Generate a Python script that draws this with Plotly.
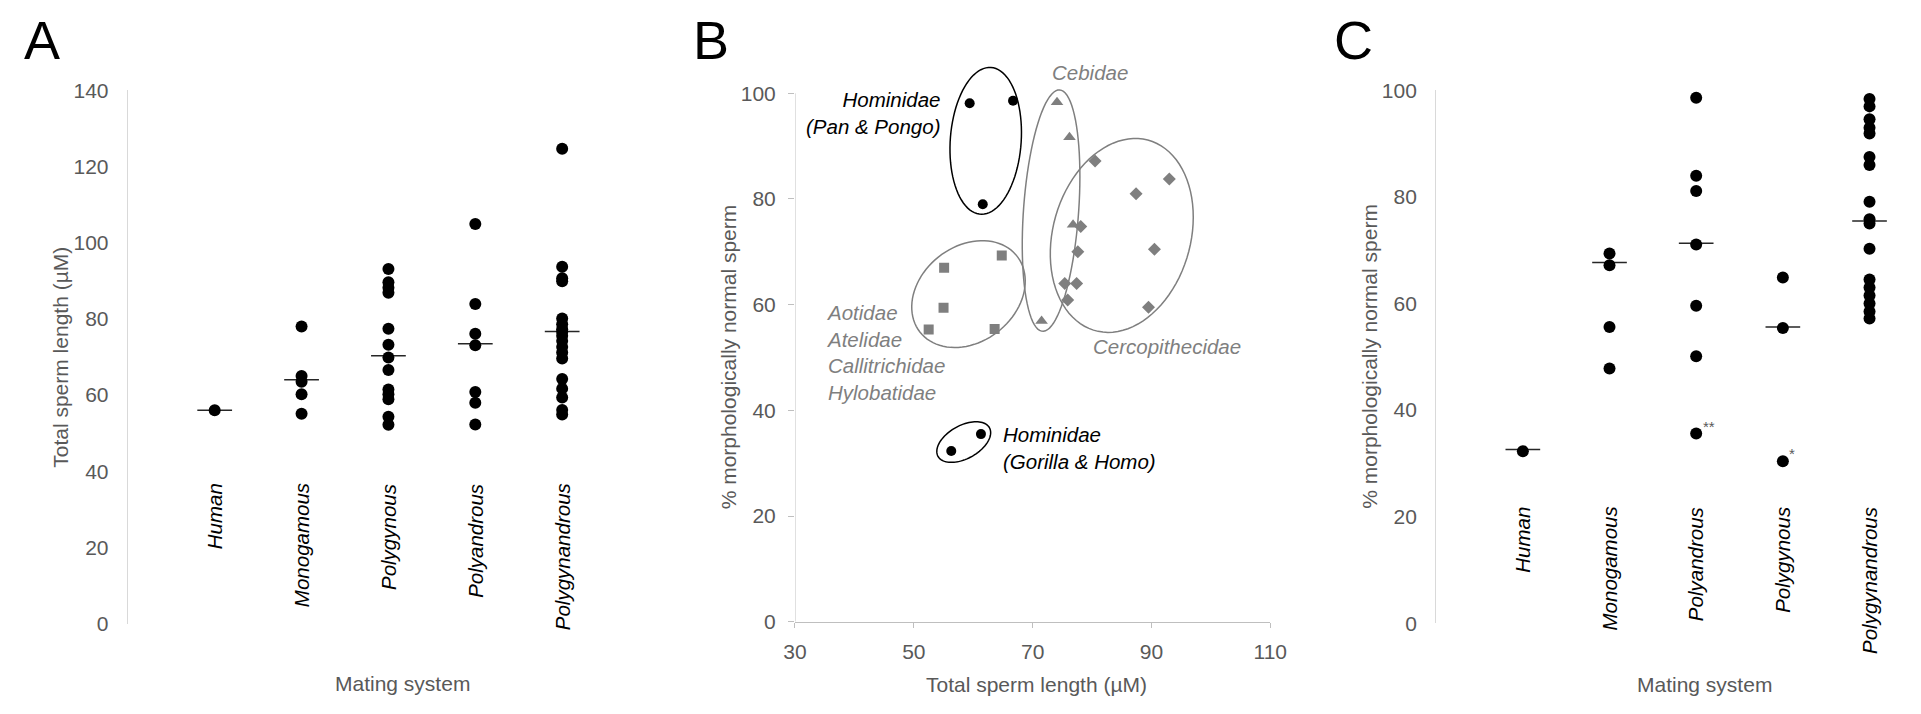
import numpy as np
import plotly.graph_objects as go

W, H = 1921, 714
FONT = "Liberation Sans, Arial, sans-serif"
TXT_GRAY = "#595959"
MARK_GRAY = "#7f7f7f"

# ---------------- Panel A data: total sperm length by mating system ----------------
A_categories = ["Human", "Monogamous", "Polygynous", "Polyandrous", "Polygynandrous"]
A_human = [56.0]
A_monogamous = [78.0, 65.0, 63.5, 60.2, 55.1]
A_polygynous = [93.1, 89.6, 88.2, 86.9, 77.4, 73.2, 69.9, 66.6, 61.5, 60.2, 58.9, 54.3, 52.2]
A_polyandrous = [104.9, 83.9, 76.1, 73.1, 60.8, 58.0, 52.3]
A_polygynandrous = [124.7, 93.7, 90.7, 89.9, 80.1, 78.6, 77.3, 76.6, 75.6, 74.2,
                    72.6, 71.2, 69.6, 64.2, 61.7, 59.4, 56.1, 54.9]
A_medians = [56.0, 64.0, 70.3, 73.5, 76.7]
A_yticks = [0, 20, 40, 60, 80, 100, 120, 140]

# ---------------- Panel B data: % normal sperm vs total sperm length ----------------
B_pan_pongo_x = [59.4, 66.7, 61.6]
B_pan_pongo_y = [98.1, 98.6, 79.0]
B_gorilla_homo_x = [56.3, 61.3]
B_gorilla_homo_y = [32.3, 35.5]
B_aotidae_x = [55.1, 55.0, 52.5, 63.6, 64.8]
B_aotidae_y = [67.0, 59.4, 55.3, 55.4, 69.3]
B_cebidae_x = [74.1, 76.2, 76.8, 71.5]
B_cebidae_y = [98.3, 91.7, 75.1, 56.9]
B_cerco_x = [80.5, 87.4, 93.0, 78.1, 77.6, 90.5, 75.4, 77.4, 75.9, 89.5]
B_cerco_y = [87.2, 81.0, 83.8, 74.8, 70.0, 70.5, 64.0, 64.0, 60.9, 59.5]
B_xticks = [30, 50, 70, 90, 110]
B_yticks = [0, 20, 40, 60, 80, 100]

# ---------------- Panel C data: % normal sperm by mating system ----------------
C_categories = ["Human", "Monogamous", "Polyandrous", "Polygynous", "Polygynandrous"]
C_human = [32.3]
C_monogamous = [69.4, 67.2, 55.6, 47.8]
C_polyandrous = [98.6, 84.0, 81.1, 71.1, 59.6, 50.1, 35.6]
C_polygynous = [64.9, 55.4, 30.4]
C_polygynandrous = [98.4, 97.0, 94.6, 93.0, 91.9, 87.5, 86.0, 79.1, 75.8, 75.0,
                    70.3, 64.5, 63.0, 61.5, 60.0, 58.5, 57.2]
C_medians = [32.6, 67.7, 71.3, 55.6, 75.5]
C_yticks = [0, 20, 40, 60, 80, 100]


def xd(p):
    return p / W


def yd(p):
    return 1 - p / H


fig = go.Figure()

# ---------- strip plots (A and C) ----------
def strip(groups, medians, xa, ya):
    xs, ys = [], []
    for i, g in enumerate(groups, start=1):
        xs += [i] * len(g)
        ys += list(g)
    mx, my = [], []
    for i, m in enumerate(medians, start=1):
        mx += [i - 0.2, i + 0.2, None]
        my += [m, m, None]
    fig.add_trace(go.Scatter(x=mx, y=my, mode="lines", xaxis=xa, yaxis=ya,
                             line=dict(color="#262626", width=1.5),
                             hoverinfo="skip", showlegend=False))
    fig.add_trace(go.Scatter(x=xs, y=ys, mode="markers", xaxis=xa, yaxis=ya,
                             marker=dict(color="black", size=12),
                             showlegend=False))


strip([A_human, A_monogamous, A_polygynous, A_polyandrous, A_polygynandrous],
      A_medians, "x", "y")
strip([C_human, C_monogamous, C_polyandrous, C_polygynous, C_polygynandrous],
      C_medians, "x3", "y3")

# ---------- scatter (B) ----------
fig.add_trace(go.Scatter(x=B_pan_pongo_x + B_gorilla_homo_x,
                         y=B_pan_pongo_y + B_gorilla_homo_y, mode="markers",
                         xaxis="x2", yaxis="y2",
                         marker=dict(color="black", size=10, symbol="circle"),
                         showlegend=False))
fig.add_trace(go.Scatter(x=B_aotidae_x, y=B_aotidae_y, mode="markers",
                         xaxis="x2", yaxis="y2",
                         marker=dict(color=MARK_GRAY, size=10, symbol="square"),
                         showlegend=False))
fig.add_trace(go.Scatter(x=B_cebidae_x, y=B_cebidae_y, mode="markers",
                         xaxis="x2", yaxis="y2",
                         marker=dict(color=MARK_GRAY, size=11, symbol="triangle-up"),
                         showlegend=False))
fig.add_trace(go.Scatter(x=B_cerco_x, y=B_cerco_y, mode="markers",
                         xaxis="x2", yaxis="y2",
                         marker=dict(color=MARK_GRAY, size=10, symbol="diamond"),
                         showlegend=False))

# ---------- ellipses in B (centre in data units, semi-axes in px, angle in deg) ----------
B_x0, B_x1 = 795.0, 1277.6
B_y0 = 630.0
SX = (B_x1 - B_x0) / 80.0      # px per x unit
SY = 5.46                       # px per y unit

ellipses = [
    dict(c=(62.1, 91.0), a=76, b=36, ang=86, color="black"),
    dict(c=(73.1, 77.8), a=125, b=28, ang=86, color=MARK_GRAY),
    dict(c=(59.2, 62.0), a=63, b=49, ang=40, color=MARK_GRAY),
    dict(c=(85.0, 73.1), a=102, b=70, ang=75, color=MARK_GRAY),
    dict(c=(58.4, 34.0), a=30, b=17, ang=30, color="black"),
]
t = np.linspace(0, 2 * np.pi, 90)
shapes = []
for e in ellipses:
    th = np.deg2rad(e["ang"])
    dxp = e["a"] * np.cos(t) * np.cos(th) - e["b"] * np.sin(t) * np.sin(th)
    dyp = e["a"] * np.cos(t) * np.sin(th) + e["b"] * np.sin(t) * np.cos(th)
    px = e["c"][0] + dxp / SX
    py = e["c"][1] + dyp / SY
    path = "M " + " L ".join(f"{u:.3f},{v:.3f}" for u, v in zip(px, py)) + " Z"
    shapes.append(dict(type="path", path=path, xref="x2", yref="y2",
                       line=dict(color=e["color"], width=1.5), layer="above"))

# y-axis line of B drawn up to 100 only
shapes.append(dict(type="line", xref="x2", yref="y2", x0=30, x1=30, y0=0, y1=100,
                   line=dict(color="#bfbfbf", width=1)))

annotations = []

def ann(text, x, y, xref="paper", yref="paper", size=21, color=TXT_GRAY,
        xanchor="center", yanchor="middle", angle=0, align="center"):
    annotations.append(dict(text=text, x=x, y=y, xref=xref, yref=yref,
                            showarrow=False, xanchor=xanchor, yanchor=yanchor,
                            textangle=angle, align=align,
                            font=dict(family=FONT, size=size, color=color)))

# panel letters
ann("A", xd(30), yd(29), size=54, color="black")
ann("B", xd(709.4), yd(29), size=54, color="black")
ann("C", xd(1362.4), yd(29), size=54, color="black")

# axis titles
ann("Total sperm length (µM)", xd(49), yd(357), angle=-90)
ann("Mating system", xd(396), yd(693.5))
ann("% morphologically normal sperm", xd(727.8), yd(356), angle=-90)
ann("Total sperm length (µM)", xd(1040), yd(694.4))
ann("% morphologically normal sperm", xd(1378), yd(356), angle=-90)
ann("Mating system", xd(1718.8), yd(695))

# category labels inside A and C
for i, c in enumerate(A_categories, start=1):
    ann(f"<i>{c}</i>", i, 37.3, xref="x", yref="y", color="black",
        yanchor="top", angle=-90, size=20.5)
for i, c in enumerate(C_categories, start=1):
    ann(f"<i>{c}</i>", i, 22.2, xref="x3", yref="y3", color="black",
        yanchor="top", angle=-90, size=20.5)

# asterisks in C
ann("**", 3.05, 37.0, xref="x3", yref="y3", size=15, xanchor="left")
ann("*", 4.05, 31.8, xref="x3", yref="y3", size=15, xanchor="left")

# group labels in B
ann("<i>Hominidae</i><br><i>(Pan & Pongo)</i>", 54.7, 96.2, xref="x2", yref="y2",
    color="black", xanchor="right", align="right", size=20.5)
ann("<i>Cebidae</i>", 79.7, 103.9, xref="x2", yref="y2", color=MARK_GRAY, size=20.5)
ann("<i>Aotidae</i><br><i>Atelidae</i><br><i>Callitrichidae</i><br><i>Hylobatidae</i>",
    34.8, 50.9, xref="x2", yref="y2", color=MARK_GRAY, xanchor="left", align="left",
    size=20.5)
ann("<i>Cercopithecidae</i>", 92.6, 52.0, xref="x2", yref="y2", color=MARK_GRAY,
    size=20.5)
ann("<i>Hominidae</i><br><i>(Gorilla & Homo)</i>", 64.7, 32.8, xref="x2", yref="y2",
    color="black", xanchor="left", align="left", size=20.5)

tickfont = dict(family=FONT, size=21, color=TXT_GRAY)
CAT_SP_A = 88.2
CAT_SP_C = 88.0

fig.update_layout(
    width=W, height=H,
    margin=dict(l=0, r=0, t=0, b=0),
    paper_bgcolor="white", plot_bgcolor="white",
    showlegend=False,
    font=dict(family=FONT),
    shapes=shapes,
    annotations=annotations,
    xaxis=dict(domain=[xd(117.6), xd(117.6 + 5.3 * CAT_SP_A)], range=[0, 5.3],
               visible=False, fixedrange=True),
    yaxis=dict(domain=[yd(632), yd(81)], range=[0, 140], tickvals=A_yticks,
               showline=True, linecolor="#d9d9d9", linewidth=1.2, showgrid=False,
               zeroline=False, ticks="", ticklabelstandoff=14, tickfont=tickfont,
               anchor="x"),
    xaxis2=dict(domain=[xd(B_x0), xd(B_x1)], range=[30, 110], tickvals=B_xticks,
                showline=True, linecolor="#bfbfbf", showgrid=False, zeroline=False,
                ticks="outside", ticklen=5, tickcolor="#bfbfbf", ticklabelstandoff=6,
                tickfont=tickfont, anchor="y2"),
    yaxis2=dict(domain=[yd(B_y0), yd(B_y0 - 110 * SY)], range=[0, 110],
                tickvals=B_yticks, showline=False, showgrid=False, zeroline=False,
                ticks="outside", ticklen=6, tickcolor="#bfbfbf", ticklabelstandoff=8,
                tickfont=tickfont, anchor="x2"),
    xaxis3=dict(domain=[xd(1446), xd(1446 + 5.3 * CAT_SP_C)], range=[0, 5.3],
                visible=False, fixedrange=True, anchor="y3"),
    yaxis3=dict(domain=[yd(631.6), yd(81)], range=[0, 100], tickvals=C_yticks,
                showline=True, linecolor="#d9d9d9", linewidth=1.2, showgrid=False,
                zeroline=False, ticks="", ticklabelstandoff=14, tickfont=tickfont,
                anchor="x3"),
)

fig.write_html(
    "out.html",
    config={"displayModeBar": False},
    post_script="document.body.style.margin='0px';document.body.style.overflow='hidden';",
)
